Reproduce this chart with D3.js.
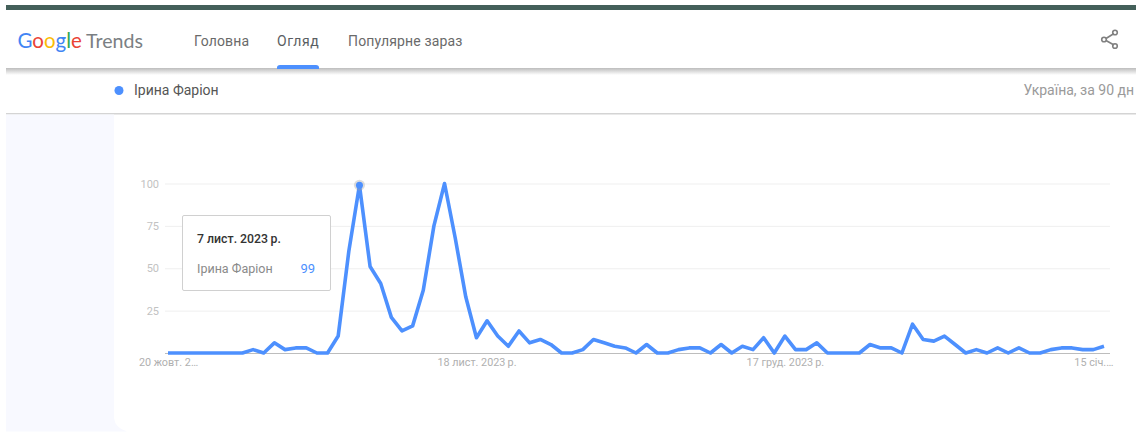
<!DOCTYPE html>
<html lang="uk"><head><meta charset="utf-8">
<script src="https://cdnjs.cloudflare.com/ajax/libs/d3/7.8.5/d3.min.js"></script>
<style>
html,body{margin:0;padding:0;background:#fff;overflow:hidden}
svg{display:block;font-family:Roboto,"Noto Sans",sans-serif}
</style></head><body>
<svg id="c" width="1136" height="432"></svg>
<script>
const seriesName = "Ірина Фаріон";
const startDate = "2023-10-20";
const values = [0,0,0,0,0,0,0,0,2,0,6,2,3,3,0,0,10,60,99,51,41,21,13,16,37,75,100,68,33,9,19,10,4,13,6,8,5,0,0,2,8,6,4,3,0,5,0,0,2,3,3,0,5,0,4,2,9,0,10,2,2,6,0,0,0,0,5,3,3,0,17,8,7,10,5,0,2,0,3,0,3,0,0,2,3,3,2,2,4];
const yTicks = [0,25,50,75,100];
const xTickIndex = [0,29,58,87];
const xTickLabels = ["20 жовт. 2…","18 лист. 2023\u2009р.","17 груд. 2023\u2009р.","15 січ.…"];
const navItems = ["Головна","Огляд","Популярне зараз"];
const tooltipIndex = 18;
const tooltipDate = "7 лист. 2023\u2009р.";
const logoLetters = [["G","#4285f4"],["o","#ea4335"],["o","#fbbc05"],["g","#4285f4"],["l","#34a853"],["e","#ea4335"]];

const svg = d3.select("#c");
const blue = "#4d90fe";
const defs = svg.append("defs");
const sh = defs.append("linearGradient").attr("id","sh").attr("x1",0).attr("x2",0).attr("y1",0).attr("y2",1);
sh.append("stop").attr("offset",0).attr("stop-color","#bdbdbd");
sh.append("stop").attr("offset",1).attr("stop-color","#fff");

// page chrome
svg.append("rect").attr("x",6).attr("y",5).attr("width",1130).attr("height",5).attr("fill","#44605a");
svg.append("rect").attr("x",6).attr("y",68).attr("width",1130).attr("height",7).attr("fill","url(#sh)");
svg.append("rect").attr("x",6).attr("y",113).attr("width",1130).attr("height",1.5).attr("fill","#d4d4d4");
svg.append("rect").attr("x",6).attr("y",114.5).attr("width",108).attr("height",317).attr("fill","#f8f9ff");
svg.append("path").attr("d","M114,418 Q115,428 127,431.5 L114,431.5 Z").attr("fill","#f8f9ff");

// logo
const logo = svg.append("text").attr("x",17.5).attr("y",47.5).attr("font-family","Lato,Roboto,sans-serif").attr("font-size",20.5).attr("font-kerning","none");
logo.selectAll("tspan").data(logoLetters).join("tspan").attr("fill",d=>d[1]).text(d=>d[0]);
svg.append("text").attr("x",86).attr("y",47.5).attr("font-family","Lato,Roboto,sans-serif").attr("font-size",19.6).attr("fill","#7b7f83").text("Trends");

// nav
const navX = [194,277,348];
svg.selectAll(".nav").data(navItems).join("text").attr("class","nav")
  .attr("x",(d,i)=>navX[i]).attr("y",46).attr("font-size",14).attr("letter-spacing",(d,i)=>i==1?0.55:0.15)
  .attr("fill",(d,i)=>i==1?"#5a5e62":"#6a6a6a").text(d=>d);
svg.append("path").attr("d","M277,69 V67.5 Q277,65 280,65 H316 Q319,65 319,67.5 V69 Z").attr("fill",blue);

// share icon
const share = svg.append("g").attr("fill","none").attr("stroke","#808080").attr("stroke-width",1.6);
share.append("path").attr("d","M1106,38.5 L1114,33.5 M1106,40.5 L1114,45");
[[1104,39.5],[1115,32.5],[1115,46]].forEach(p=>share.append("circle").attr("cx",p[0]).attr("cy",p[1]).attr("r",2.3));

// legend row
svg.append("circle").attr("cx",119).attr("cy",90.5).attr("r",4.5).attr("fill",blue);
svg.append("text").attr("x",134).attr("y",95).attr("font-size",14).attr("fill","#555").text(seriesName);
svg.append("text").attr("x",1134).attr("y",95).attr("text-anchor","end").attr("font-size",14).attr("fill","#9a9a9a").text("Україна, за 90 дн");

// scales
const parse = d3.utcParse("%Y-%m-%d");
const dates = values.map((v,i)=>d3.utcDay.offset(parse(startDate),i));
const x = d3.scaleUtc().domain(d3.extent(dates)).range([168,1104]);
const y = d3.scaleLinear().domain([0,100]).range([353,183.5]);

// y axis + grid
const yAxis = svg.append("g")
  .call(d3.axisLeft(y).tickValues(yTicks.slice(1)).tickSize(0).tickFormat(d3.format("d")));
yAxis.select(".domain").remove();
yAxis.selectAll("text").attr("x",159).attr("font-size",11).attr("font-family","Roboto,sans-serif").attr("fill","#c2c2c2");
svg.insert("g","g").selectAll("line").data(yTicks.slice(1)).join("line")
  .attr("x1",165).attr("x2",1110).attr("y1",d=>y(d)+.5).attr("y2",d=>y(d)+.5).attr("stroke","#efefef");

// x axis
const xTickDates = xTickIndex.map(i=>dates[i]);
const xAxis = svg.append("g").attr("transform","translate(0,353)")
  .call(d3.axisBottom(x).tickValues(xTickDates).tickSize(0).tickFormat((d,i)=>xTickLabels[i]));
xAxis.select(".domain").remove();
xAxis.selectAll("text").attr("y",5).attr("dy","0.71em").attr("font-size",10.8).attr("font-family","Roboto,sans-serif").attr("fill","#b0b0b0");
svg.append("line").attr("x1",165).attr("x2",1110).attr("y1",353.5).attr("y2",353.5).attr("stroke","#bdbdbd").attr("stroke-width",1.2);

// line
const line = d3.line().x((d,i)=>x(dates[i])).y(d=>y(d)).curve(d3.curveLinear);
svg.append("path").datum(values).attr("d",line).attr("fill","none").attr("stroke",blue).attr("stroke-width",3.6).attr("stroke-linejoin","round");

// hover marker
const hx = x(dates[tooltipIndex]), hy = y(values[tooltipIndex]);
svg.append("circle").attr("cx",hx).attr("cy",hy).attr("r",5.5).attr("fill","#9e9e9e").attr("opacity",.35);
svg.append("circle").attr("cx",hx).attr("cy",hy).attr("r",3.5).attr("fill",blue);

// tooltip
const tip = svg.append("g");
tip.append("rect").attr("x",182.5).attr("y",215.5).attr("width",148).attr("height",75).attr("rx",1.5).attr("fill","#fff").attr("stroke","#d0d0d0");
tip.append("text").attr("x",197).attr("y",243).attr("font-size",12.3).attr("font-weight",500).attr("fill","#333").text(tooltipDate);
tip.append("text").attr("x",197).attr("y",273).attr("font-size",12.5).attr("fill","#8a8a8a").text(seriesName);
tip.append("text").attr("x",315).attr("y",273).attr("text-anchor","end").attr("font-size",13).attr("fill",blue).text(values[tooltipIndex]);
</script></body></html>
